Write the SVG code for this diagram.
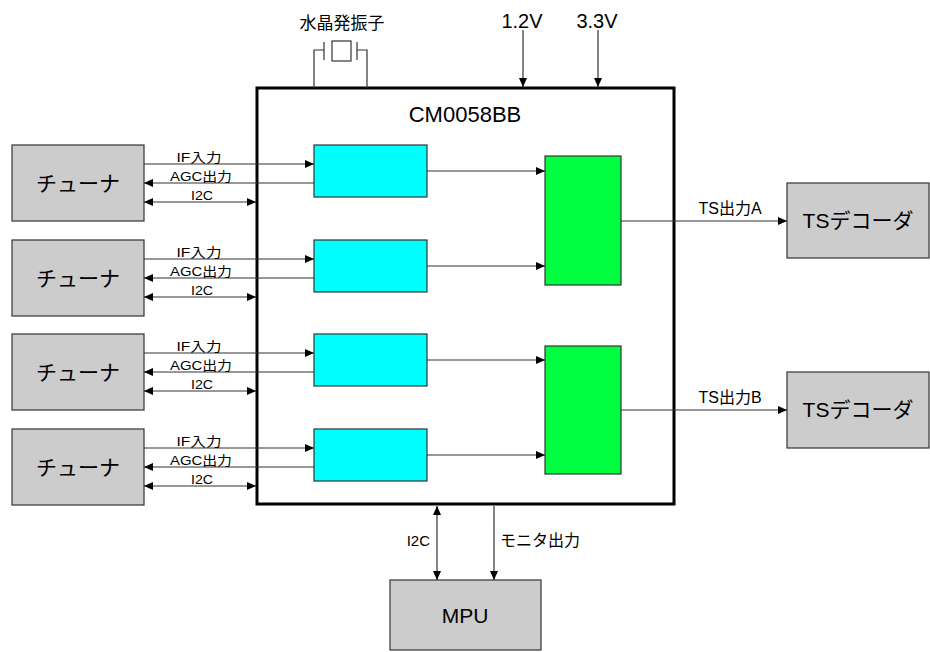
<svg xmlns="http://www.w3.org/2000/svg" width="930" height="652" viewBox="0 0 930 652">
<defs>
<style>
text{font-family:"Liberation Sans","Noto Sans CJK JP",sans-serif;fill:#000}
.big{font-size:21px;text-anchor:middle}
.sm{font-size:13px;text-anchor:middle}
.md{font-size:16px;text-anchor:middle}
.gray{fill:#cccccc;stroke:#333;stroke-width:1.2}
.cyan{fill:#00ffff;stroke:#333;stroke-width:1.2}
.green{fill:#00ff40;stroke:#333;stroke-width:1.2}
.ln{stroke:#333;stroke-width:1.2;fill:none}
</style>
<marker id="ah" markerUnits="userSpaceOnUse" markerWidth="10" markerHeight="9" refX="9" refY="4" orient="auto">
<path d="M0,0 L9,4 L0,8 z" fill="#000"/>
</marker>
<marker id="as" markerUnits="userSpaceOnUse" markerWidth="10" markerHeight="9" refX="0" refY="4" orient="auto">
<path d="M9,0 L0,4 L9,8 z" fill="#000"/>
</marker>
</defs>
<rect width="930" height="652" fill="#fff"/>

<g id="chip">
<rect x="257" y="88" width="417" height="416" fill="#fff" stroke="#000" stroke-width="3"/>
<text x="465" y="122" style="font-size:22px;text-anchor:middle">CM0058BB</text>
</g>

<g id="crystal">
<text x="342" y="29" style="font-size:17px;text-anchor:middle">水晶発振子</text>
<path class="ln" d="M314,88 V50 H324 M324,42 V60 M357,42 V60 M357,50 H367 V88"/>
<rect x="332" y="41" width="19" height="20" fill="none" stroke="#333" stroke-width="1.2"/>
</g>

<g id="power">
<text x="522" y="28" style="font-size:20px;text-anchor:middle">1.2V</text>
<text x="597" y="28" style="font-size:20px;text-anchor:middle">3.3V</text>
</g>

<g id="tuner1"><rect class="gray" x="12" y="145" width="132" height="76"/><text x="78" y="191" class="big">チューナ</text></g>
<g id="tuner2"><rect class="gray" x="12" y="240" width="132" height="76"/><text x="78" y="286" class="big">チューナ</text></g>
<g id="tuner3"><rect class="gray" x="12" y="334" width="132" height="76"/><text x="78" y="380" class="big">チューナ</text></g>
<g id="tuner4"><rect class="gray" x="12" y="429" width="132" height="76"/><text x="78" y="475" class="big">チューナ</text></g>

<g id="demod1"><rect class="cyan" x="314" y="145" width="113" height="52"/></g>
<g id="demod2"><rect class="cyan" x="314" y="240" width="113" height="52"/></g>
<g id="demod3"><rect class="cyan" x="314" y="334" width="113" height="52"/></g>
<g id="demod4"><rect class="cyan" x="314" y="429" width="113" height="52"/></g>

<g id="mux1"><rect class="green" x="545" y="156" width="76" height="129"/></g>
<g id="mux2"><rect class="green" x="545" y="346" width="76" height="128"/></g>

<g id="tsdec1"><rect class="gray" x="787" y="183" width="142" height="75"/><text x="858" y="228" class="big">TSデコーダ</text></g>
<g id="tsdec2"><rect class="gray" x="787" y="372" width="142" height="76"/><text x="858" y="417" class="big">TSデコーダ</text></g>

<g id="mpu"><rect class="gray" x="390" y="580" width="151" height="70"/><text x="465" y="623" class="big">MPU</text></g>

<g id="connectors">
<line class="ln" x1="523" y1="30" x2="523" y2="87" marker-end="url(#ah)"/>
<line class="ln" x1="598" y1="30" x2="598" y2="87" marker-end="url(#ah)"/>

<line class="ln" x1="144" y1="164" x2="314" y2="164" marker-end="url(#ah)"/>
<line class="ln" x1="314" y1="183" x2="144" y2="183" marker-end="url(#ah)"/>
<line class="ln" x1="144" y1="202" x2="256" y2="202" marker-start="url(#as)" marker-end="url(#ah)"/>

<line class="ln" x1="144" y1="259" x2="314" y2="259" marker-end="url(#ah)"/>
<line class="ln" x1="314" y1="278" x2="144" y2="278" marker-end="url(#ah)"/>
<line class="ln" x1="144" y1="297" x2="256" y2="297" marker-start="url(#as)" marker-end="url(#ah)"/>

<line class="ln" x1="144" y1="353" x2="314" y2="353" marker-end="url(#ah)"/>
<line class="ln" x1="314" y1="372" x2="144" y2="372" marker-end="url(#ah)"/>
<line class="ln" x1="144" y1="391" x2="256" y2="391" marker-start="url(#as)" marker-end="url(#ah)"/>

<line class="ln" x1="144" y1="448" x2="314" y2="448" marker-end="url(#ah)"/>
<line class="ln" x1="314" y1="467" x2="144" y2="467" marker-end="url(#ah)"/>
<line class="ln" x1="144" y1="486" x2="256" y2="486" marker-start="url(#as)" marker-end="url(#ah)"/>

<line class="ln" x1="427" y1="171" x2="545" y2="171" marker-end="url(#ah)"/>
<line class="ln" x1="427" y1="266" x2="545" y2="266" marker-end="url(#ah)"/>
<line class="ln" x1="427" y1="360" x2="545" y2="360" marker-end="url(#ah)"/>
<line class="ln" x1="427" y1="455" x2="545" y2="455" marker-end="url(#ah)"/>

<line class="ln" x1="621" y1="221" x2="787" y2="221" marker-end="url(#ah)"/>
<line class="ln" x1="621" y1="410" x2="787" y2="410" marker-end="url(#ah)"/>

<line class="ln" x1="437" y1="506" x2="437" y2="580" marker-start="url(#as)" marker-end="url(#ah)"/>
<line class="ln" x1="494" y1="506" x2="494" y2="580" marker-end="url(#ah)"/>

<g id="labels">
<text x="199" y="162" class="sm" textLength="45" lengthAdjust="spacingAndGlyphs">IF入力</text>
<text x="201" y="181" class="sm" textLength="62" lengthAdjust="spacingAndGlyphs">AGC出力</text>
<text x="202" y="200" class="sm" textLength="22" lengthAdjust="spacingAndGlyphs">I2C</text>
<text x="199" y="257" class="sm" textLength="45" lengthAdjust="spacingAndGlyphs">IF入力</text>
<text x="201" y="276" class="sm" textLength="62" lengthAdjust="spacingAndGlyphs">AGC出力</text>
<text x="202" y="295" class="sm" textLength="22" lengthAdjust="spacingAndGlyphs">I2C</text>
<text x="199" y="351" class="sm" textLength="45" lengthAdjust="spacingAndGlyphs">IF入力</text>
<text x="201" y="370" class="sm" textLength="62" lengthAdjust="spacingAndGlyphs">AGC出力</text>
<text x="202" y="389" class="sm" textLength="22" lengthAdjust="spacingAndGlyphs">I2C</text>
<text x="199" y="446" class="sm" textLength="45" lengthAdjust="spacingAndGlyphs">IF入力</text>
<text x="201" y="465" class="sm" textLength="62" lengthAdjust="spacingAndGlyphs">AGC出力</text>
<text x="202" y="484" class="sm" textLength="22" lengthAdjust="spacingAndGlyphs">I2C</text>
<text x="730" y="214" class="md">TS出力A</text>
<text x="730" y="403" class="md">TS出力B</text>
<text x="430" y="546" style="font-size:15px;text-anchor:end">I2C</text>
<text x="500" y="546" style="font-size:16px">モニタ出力</text>
</g>
</g>
</svg>
